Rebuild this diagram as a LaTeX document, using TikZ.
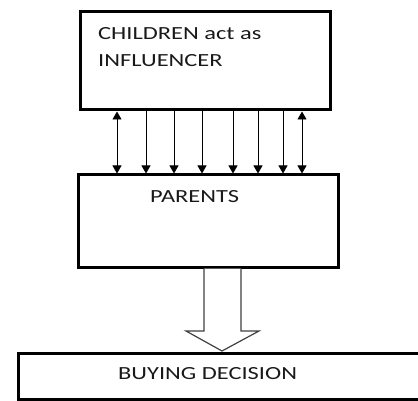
\documentclass[tikz,border=0pt]{standalone}
\usepackage{fontspec}
\setmainfont{Carlito}
\usetikzlibrary{arrows.meta}

\newcommand{\widetxt}[1]{\scalebox{1.32}[1]{#1}}

\begin{document}
\begin{tikzpicture}[x=1pt,y=-1pt,
  box/.style={draw, line width=3pt, inner sep=0pt},
  txt/.style={anchor=base west, inner sep=0pt, font=\fontsize{18.5}{27}\selectfont, text=black!90},
  link/.style={line width=0.9pt, -{Triangle[length=8pt,width=9pt]}}]
  \useasboundingbox (0,0) rectangle (418,401);
  \clip (0,0) rectangle (418,401);

  % boxes
  \node[box, minimum width=250pt, minimum height=98pt] (children) at (205,61) {};
  \node[box, minimum width=260pt, minimum height=92pt] (parents) at (208,221) {};
  \node[box, minimum width=600pt, minimum height=46pt] (decision) at (318,376) {};

  % texts
  \node[txt] (childline) at (98,40) {\widetxt{CHILDREN act as}};
  \node[txt] (childline2) at (98,67) {\widetxt{INFLUENCER}};
  \node[txt] (parentstxt) at (150,203) {\widetxt{PARENTS}};
  \node[txt] (decisiontxt) at (118,379) {\widetxt{BUYING DECISION}};

  % influence arrows
  \draw[link, {Triangle[length=8pt,width=9pt]}-{Triangle[length=8pt,width=9pt]}]
    (children.south -| 117,0) -- (parents.north -| 117,0);
  \foreach \x in {146,174,202,233,258,283}
    \draw[link] (children.south -| \x,0) -- (parents.north -| \x,0);
  \draw[link, {Triangle[length=8pt,width=9pt]}-{Triangle[length=8pt,width=9pt]}]
    (children.south -| 302,0) -- (parents.north -| 302,0);

  % hollow arrow
  \coordinate (tip) at (222,351);
  \draw[line width=1.2pt, draw=black!75, fill=white]
    (parents.south -| 204,0) -- (204,331) -- (186,331) -- (tip)
    -- (259,331) -- (241,331) -- (parents.south -| 241,0);
\end{tikzpicture}
\end{document}
